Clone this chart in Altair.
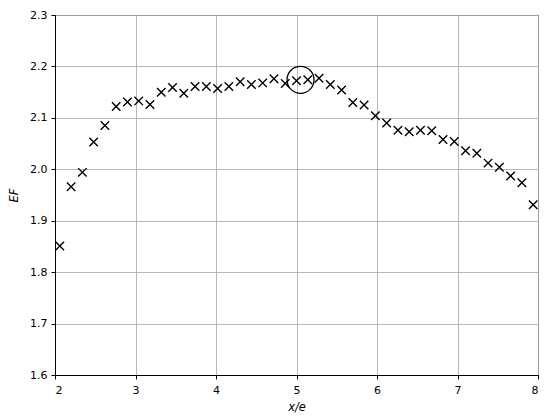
import altair as alt
import pandas as pd

x_vals = [2.06, 2.20, 2.34, 2.48, 2.62, 2.76, 2.90, 3.04, 3.18, 3.32, 3.46, 3.60, 3.74, 3.88,
          4.02, 4.16, 4.30, 4.44, 4.58, 4.72, 4.86, 5.00, 5.14, 5.28, 5.42, 5.56, 5.70, 5.84,
          5.98, 6.12, 6.26, 6.40, 6.54, 6.68, 6.82, 6.96, 7.10, 7.24, 7.38, 7.52, 7.66, 7.80, 7.94]
ef_vals = [1.851, 1.966, 1.994, 2.053, 2.085, 2.122, 2.131, 2.133, 2.126, 2.150, 2.159, 2.148,
           2.161, 2.161, 2.157, 2.161, 2.170, 2.165, 2.168, 2.176, 2.167, 2.172, 2.174, 2.177,
           2.165, 2.154, 2.130, 2.125, 2.104, 2.090, 2.076, 2.073, 2.076, 2.075, 2.058, 2.054,
           2.036, 2.031, 2.012, 2.004, 1.987, 1.974, 1.931]
highlight_x = [5.05]
highlight_y = [2.174]

x_ticks = [2, 3, 4, 5, 6, 7, 8]
y_ticks = [1.6, 1.7, 1.8, 1.9, 2.0, 2.1, 2.2, 2.3]

df = pd.DataFrame({"x": x_vals, "ef": ef_vals})
hl = pd.DataFrame({"x": highlight_x, "ef": highlight_y})

font = "DejaVu Sans"

xscale = alt.Scale(domain=[2, 8], nice=False, zero=False)
yscale = alt.Scale(domain=[1.6, 2.3], nice=False, zero=False)

xaxis = alt.Axis(values=x_ticks, format="d", title="x/e", titleFontStyle="italic",
                 titleFont=font, titleFontSize=11.5, titleFontWeight="normal", titleColor="black",
                 titlePadding=6, labelFont=font, labelFontSize=11, labelColor="black",
                 labelPadding=5, tickSize=4, tickColor="black", domainColor="black",
                 domainWidth=1, grid=True, gridColor="#b0b0b0", gridWidth=0.9)
yaxis = alt.Axis(values=y_ticks, format=".1f", title="EF", titleFontStyle="italic",
                 titleFont=font, titleFontSize=11.5, titleFontWeight="normal", titleColor="black",
                 titlePadding=10, labelFont=font, labelFontSize=11, labelColor="black",
                 labelPadding=4, tickSize=4, tickColor="black", domainColor="black",
                 domainWidth=1, grid=True, gridColor="#b0b0b0", gridWidth=0.9)

pts = alt.Chart(df).mark_point(
    shape="M-1,-1L1,1M-1,1L1,-1", size=72, filled=False, color="black",
    strokeWidth=1.4, opacity=1
).encode(
    x=alt.X("x:Q", scale=xscale, axis=xaxis),
    y=alt.Y("ef:Q", scale=yscale, axis=yaxis),
)

circ = alt.Chart(hl).mark_point(
    shape="circle", size=729, filled=False, color="black", strokeWidth=1.3, opacity=1
).encode(
    x=alt.X("x:Q", scale=xscale),
    y=alt.Y("ef:Q", scale=yscale),
)

chart = alt.layer(pts, circ).properties(
    width=483, height=360,
    autosize=alt.AutoSizeParams(type="none"),
    padding={"left": 47, "top": 7, "right": 4, "bottom": 40},
).configure_view(stroke="black", strokeWidth=1)

chart.save("out.html", embed_options={"renderer": "svg", "actions": False})
